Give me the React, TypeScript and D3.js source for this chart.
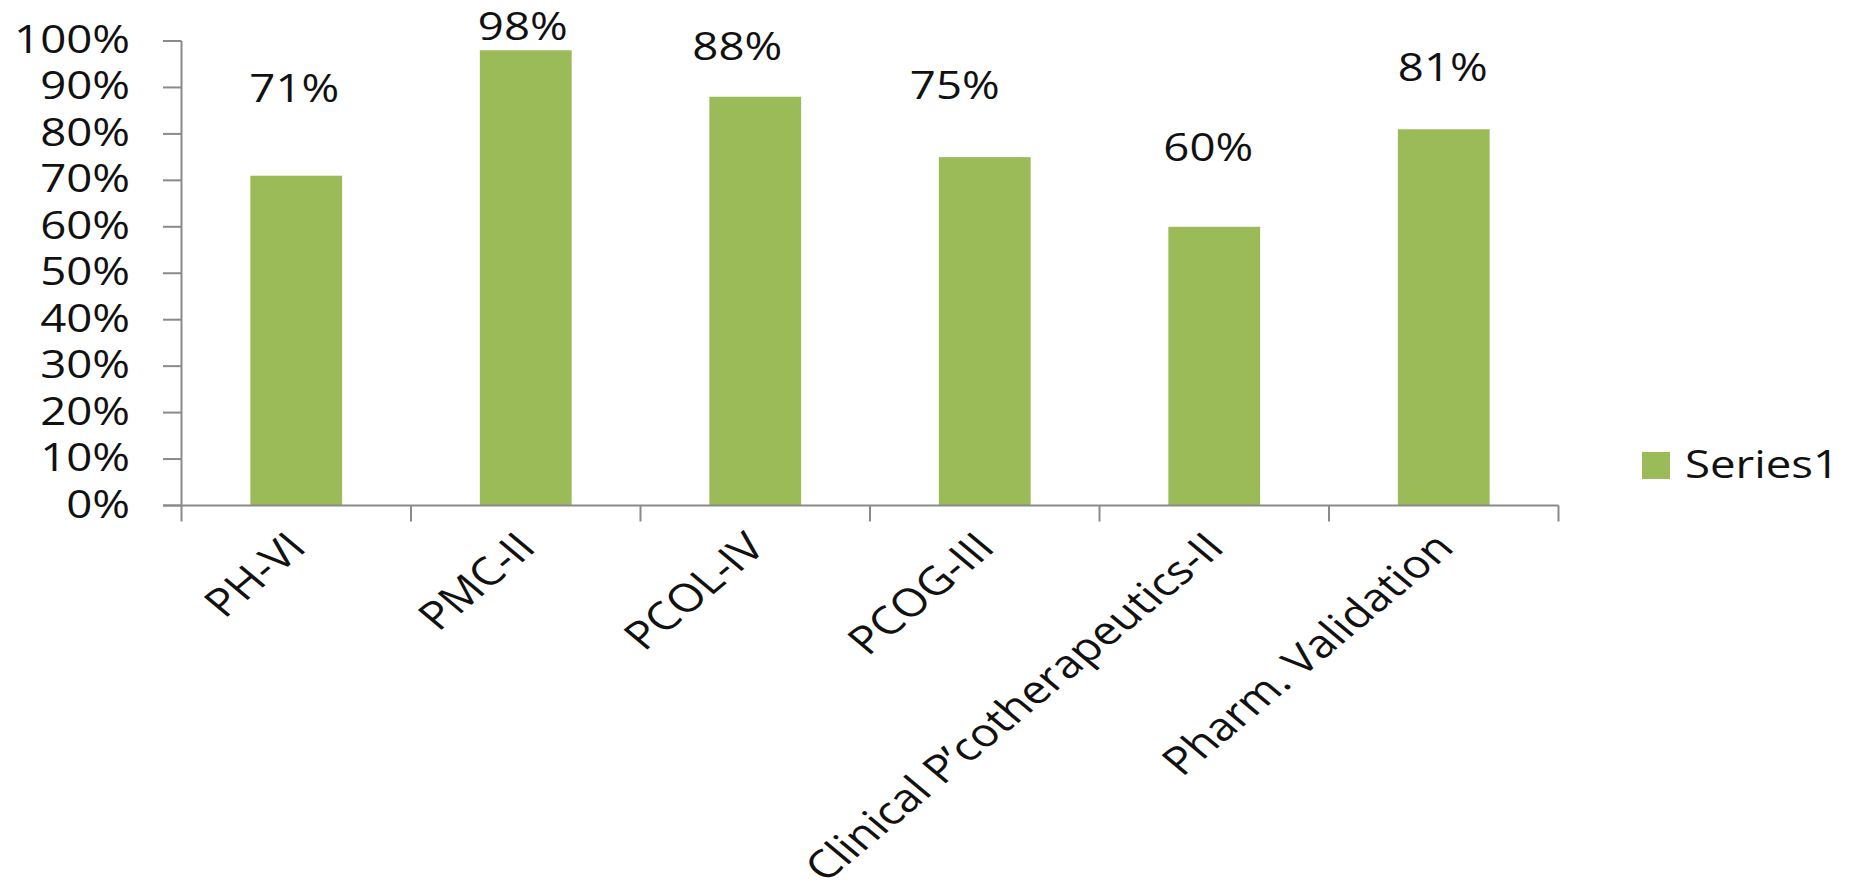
import React from "react";
import * as d3 from "d3";

const categories: string[] = [
  "PH-VI",
  "PMC-II",
  "PCOL-IV",
  "PCOG-III",
  "Clinical P\u2019cotherapeutics-II",
  "Pharm. Validation",
];
const values: number[] = [0.71, 0.98, 0.88, 0.75, 0.6, 0.81];
const valueLabels: string[] = ["71%", "98%", "88%", "75%", "60%", "81%"];
const yTicks: number[] = [0, 0.1, 0.2, 0.3, 0.4, 0.5, 0.6, 0.7, 0.8, 0.9, 1.0];
const seriesName = "Series1";

// layout-only: where the data labels sit (value-space y, pixel x shift)
const labelY: number[] = [0.897, 1.032, 0.989, 0.905, 0.771, 0.943];
const labelDx: number[] = [-2, -3, -18, -30, -6, -1];

const W = 1852;
const H = 891;
const SX = 1.2;
const FONT = "'Open Sans', 'Noto Sans', sans-serif";
const FS = 38;
const FS_CAT = 39;
const GREEN = "#9BBB59";
const AXIS = "#8a8a8a";
const TXT = "#111";

export default function App() {
  const x = d3.scaleBand<string>().domain(categories).range([181.5, 1558.5]).padding(0);
  const y = d3.scaleLinear().domain([0, 1]).range([505.5, 41]);
  const bw = x.bandwidth() * 0.4;
  const y0 = y(0);
  const fmt = d3.format(".0%");

  return (
    <svg
      width={W}
      height={H}
      style={{ position: "absolute", left: 0, top: 0, background: "#fff" }}
      fontFamily={FONT}
    >
      <rect x={0} y={0} width={W} height={H} fill="#fff" />
      {/* bars */}
      {categories.map((c, i) => (
        <rect
          key={c}
          x={(x(c) as number) + x.bandwidth() / 2 - bw / 2}
          y={y(values[i])}
          width={bw}
          height={y0 - y(values[i])}
          fill={GREEN}
        />
      ))}
      {/* y axis */}
      <line x1={x.range()[0]} x2={x.range()[0]} y1={y(1)} y2={y0 + 16} stroke={AXIS} strokeWidth={2} />
      {yTicks.map((t) => (
        <g key={t}>
          <line x1={163} x2={x.range()[0]} y1={y(t)} y2={y(t)} stroke={AXIS} strokeWidth={2} />
          <text
            transform={`translate(130,${y(t) + 12}) scale(${SX},1)`}
            textAnchor="end"
            fontSize={FS}
            fill={TXT}
          >
            {fmt(t)}
          </text>
        </g>
      ))}
      {/* x axis */}
      <line x1={163} x2={x.range()[1]} y1={y0} y2={y0} stroke={AXIS} strokeWidth={2} />
      {categories.map((c) => (
        <line
          key={"t" + c}
          x1={(x(c) as number) + x.bandwidth()}
          x2={(x(c) as number) + x.bandwidth()}
          y1={y0}
          y2={y0 + 16}
          stroke={AXIS}
          strokeWidth={2}
        />
      ))}
      {/* category labels */}
      {categories.map((c) => (
        <text
          key={"l" + c}
          transform={`translate(${(x(c) as number) + x.bandwidth() / 2 + 12},${y0 + 44}) scale(${SX},1) rotate(-45)`}
          textAnchor="end"
          fontSize={FS_CAT}
          fill={TXT}
        >
          {c}
        </text>
      ))}
      {/* data labels */}
      {categories.map((c, i) => (
        <text
          key={"d" + c}
          transform={`translate(${(x(c) as number) + x.bandwidth() / 2 + labelDx[i]},${y(labelY[i]) + 13.5}) scale(${SX},1)`}
          textAnchor="middle"
          fontSize={FS}
          fill={TXT}
        >
          {valueLabels[i]}
        </text>
      ))}
      {/* legend */}
      <rect x={1642} y={452} width={28} height={27} fill={GREEN} />
      <text transform={`translate(1685,478) scale(${SX},1)`} fontSize={FS} fill={TXT}>
        {seriesName}
      </text>
    </svg>
  );
}
